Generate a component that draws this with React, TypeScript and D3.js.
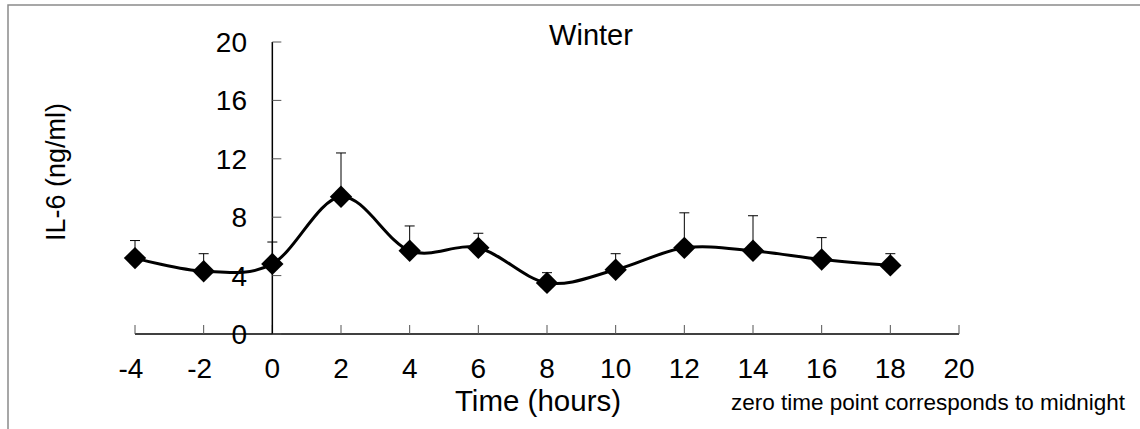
import React, { useEffect, useRef } from 'react';
import * as d3 from 'd3';

const HOURS = [-4, -2, 0, 2, 4, 6, 8, 10, 12, 14, 16, 18];
const IL6 = [5.2, 4.3, 4.8, 9.4, 5.7, 5.9, 3.5, 4.4, 5.9, 5.7, 5.1, 4.7];
const ERR_TOP = [6.4, 5.5, 6.3, 12.4, 7.4, 6.9, 4.2, 5.5, 8.3, 8.1, 6.6, 5.5];
const X_TICKS = [-4, -2, 0, 2, 4, 6, 8, 10, 12, 14, 16, 18, 20];
const Y_TICKS = [0, 4, 8, 12, 16, 20];

const FONT = '"Liberation Sans", Arial, sans-serif';

export default function App() {
  const svgRef = useRef<SVGSVGElement>(null);

  useEffect(() => {
    const width = 1140;
    const height = 429;
    const svg = d3.select(svgRef.current);
    svg.selectAll('*').remove();
    svg.attr('width', width).attr('height', height).style('font-family', FONT);

    const x = d3.scaleLinear().domain([-4, 20]).range([135, 959]);
    const y = d3.scaleLinear().domain([0, 20]).range([334, 42]);

    // outer frame (only top/left visible)
    svg.append('rect').attr('x', 8).attr('y', 5).attr('width', 1200).attr('height', 500)
      .attr('fill', 'white').attr('stroke', '#8a8a8a').attr('stroke-width', 1.5);

    // x axis
    svg.append('line').attr('x1', x(-4)).attr('x2', x(20)).attr('y1', y(0)).attr('y2', y(0))
      .attr('stroke', 'black').attr('stroke-width', 1.5);
    X_TICKS.forEach(t => {
      svg.append('line').attr('x1', x(t)).attr('x2', x(t)).attr('y1', y(0) - 9).attr('y2', y(0))
        .attr('stroke', '#555').attr('stroke-width', 1);
      svg.append('text').attr('x', x(t) - (t < 0 ? 4 : 0)).attr('y', 378).attr('text-anchor', 'middle')
        .style('font-size', '28px').style('fill', 'black').text(t);
    });

    // y axis at x = 0
    svg.append('line').attr('x1', x(0)).attr('x2', x(0)).attr('y1', y(20)).attr('y2', y(0))
      .attr('stroke', 'black').attr('stroke-width', 1.5);
    Y_TICKS.forEach(t => {
      svg.append('line').attr('x1', x(0)).attr('x2', x(0) + 9).attr('y1', y(t)).attr('y2', y(t))
        .attr('stroke', '#555').attr('stroke-width', 1);
      svg.append('text').attr('x', 247).attr('y', y(t)).attr('dy', '0.36em').attr('text-anchor', 'end')
        .style('font-size', '28px').style('fill', 'black').text(t);
    });

    // error bars (upper only)
    HOURS.forEach((h, i) => {
      svg.append('line').attr('x1', x(h)).attr('x2', x(h)).attr('y1', y(ERR_TOP[i])).attr('y2', y(IL6[i]))
        .attr('stroke', 'black').attr('stroke-width', 1);
      svg.append('line').attr('x1', x(h) - 5).attr('x2', x(h) + 5).attr('y1', y(ERR_TOP[i])).attr('y2', y(ERR_TOP[i]))
        .attr('stroke', 'black').attr('stroke-width', 1);
    });

    // smoothed line
    const line = d3.line<number>().x((_, i) => x(HOURS[i])).y(v => y(v)).curve(d3.curveCatmullRom.alpha(0));
    svg.append('path').datum(IL6).attr('d', line).attr('fill', 'none')
      .attr('stroke', 'black').attr('stroke-width', 3);

    // diamond markers
    const diamond = d3.symbol().type(d3.symbolSquare).size(250);
    HOURS.forEach((h, i) => {
      svg.append('path').attr('d', diamond()!)
        .attr('transform', `translate(${x(h)},${y(IL6[i])}) rotate(45)`).attr('fill', 'black');
    });

    // titles
    svg.append('text').attr('x', 591).attr('y', 45).attr('text-anchor', 'middle')
      .style('font-size', '29px').text('Winter');
    svg.append('text').attr('x', 538).attr('y', 411).attr('text-anchor', 'middle')
      .style('font-size', '29.5px').text('Time (hours)');
    svg.append('text').attr('x', 731).attr('y', 410)
      .style('font-size', '22.5px').text('zero time point corresponds to midnight');
    svg.append('text').attr('transform', `translate(65,172) rotate(-90)`).attr('text-anchor', 'middle')
      .style('font-size', '27px').text('IL-6 (ng/ml)');
  }, []);

  return <svg ref={svgRef} style={{ position: 'absolute', left: 0, top: 0 }} />;
}
